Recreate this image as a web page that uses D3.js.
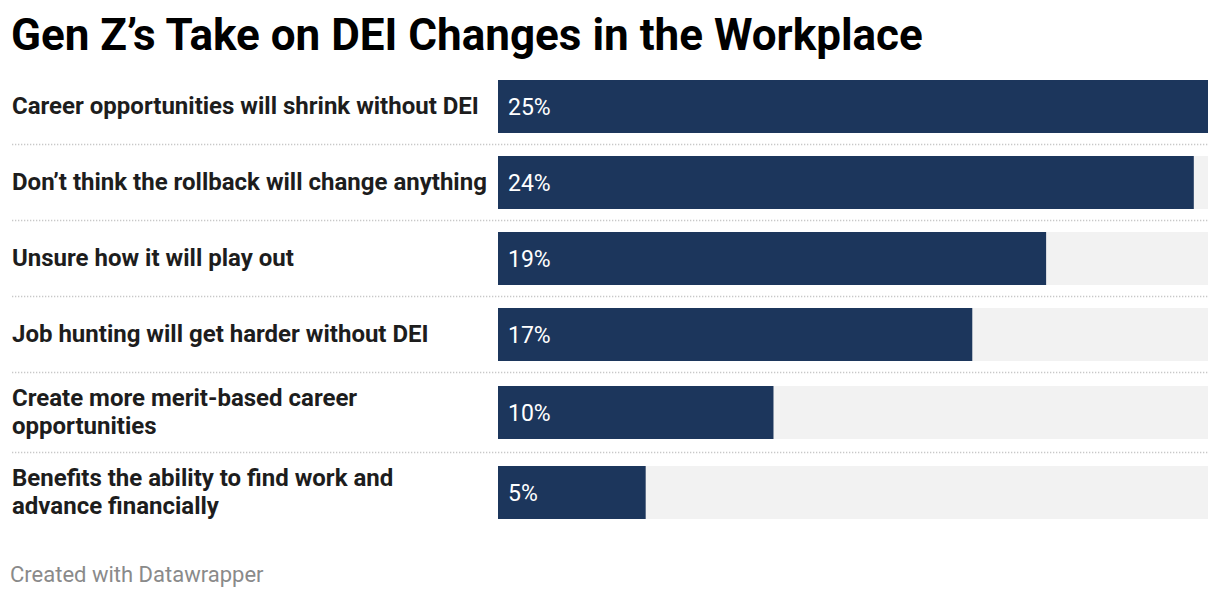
<!DOCTYPE html>
<html><head><meta charset="utf-8">
<script src="https://cdn.jsdelivr.net/npm/d3@7"></script>
<style>
body{margin:0;background:#fff;}
svg{display:block;font-family:Roboto,"Noto Sans",sans-serif;}
</style></head>
<body>
<svg id="chart" width="1220" height="598"></svg>
<script>
const categories = [
  ["Career opportunities will shrink without DEI"],
  ["Don’t think the rollback will change anything"],
  ["Unsure how it will play out"],
  ["Job hunting will get harder without DEI"],
  ["Create more merit-based career", "opportunities"],
  ["Benefits the ability to find work and", "advance financially"]
];
const values = [25, 24.5, 19.3, 16.7, 9.7, 5.2];
const valueLabels = ["25%", "24%", "19%", "17%", "10%", "5%"];
const title = "Gen Z’s Take on DEI Changes in the Workplace";
const footer = "Created with Datawrapper";

const svg = d3.select("#chart");
const barLeft = 498, barRight = 1208, barH = 53;
const x = d3.scaleLinear().domain([0, d3.max(values)]).range([barLeft, barRight]);

const rowH = categories.map(c => c.length > 1 ? 80 : 76);
let start = 68.5;
const rows = categories.map((c, i) => {
  const r = {i, lines: c, value: values[i], label: valueLabels[i], top: start, h: rowH[i]};
  start += rowH[i];
  return r;
});

svg.append("text").attr("x", 11).attr("y", 50)
  .attr("font-size", 44).attr("font-weight", 700).attr("fill", "#000")
  .text(title);

const g = svg.append("g");
g.selectAll("line.sep").data(rows.slice(1)).join("line")
  .attr("class", "sep")
  .attr("x1", 12).attr("x2", barRight)
  .attr("y1", d => d.top).attr("y2", d => d.top)
  .attr("stroke", "#c8c8c8").attr("stroke-width", 1.3)
  .attr("stroke-dasharray", "1.3,1.7");

const row = g.selectAll("g.row").data(rows).join("g").attr("class", "row");
const barY = d => d.top + (d.h - barH) / 2;

row.append("rect").attr("x", x(0)).attr("y", barY)
  .attr("width", x.range()[1] - x(0)).attr("height", barH).attr("fill", "#f2f2f2");
row.append("rect").attr("x", x(0)).attr("y", barY)
  .attr("width", d => x(d.value) - x(0)).attr("height", barH).attr("fill", "#1c365c");
row.append("text").attr("x", x(0) + 10).attr("y", d => barY(d) + barH / 2 + 8)
  .attr("font-size", 23).attr("fill", "#fff").text(d => d.label);

const lab = row.append("text").attr("font-size", 24).attr("font-weight", 700).attr("fill", "#1d1d1d");
lab.each(function(d) {
  const t = d3.select(this);
  const cy = barY(d) + barH / 2;
  const n = d.lines.length;
  d.lines.forEach((ln, k) => {
    t.append("tspan").attr("x", 12).attr("y", cy + 7.5 + (k - (n - 1) / 2) * 27.5).text(ln);
  });
});

svg.append("text").attr("x", 10).attr("y", 582)
  .attr("font-size", 22).attr("fill", "#8a8a8a").text(footer);
</script>
</body></html>
